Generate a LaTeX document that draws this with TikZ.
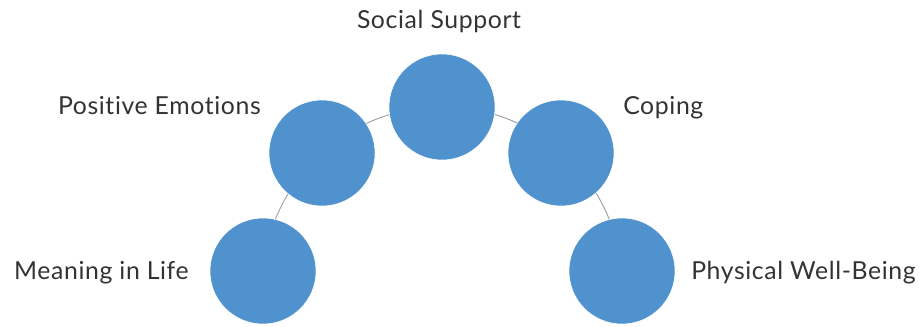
\documentclass[tikz,border=0pt]{standalone}
\usepackage{fontspec}
\setmainfont{Lato}[LetterSpace=2.5,Ligatures=NoCommon]
\usepackage{tikz}
\usetikzlibrary{backgrounds}

\definecolor{bubblefill}{RGB}{79,146,205}
\definecolor{ringgray}{RGB}{165,165,165}
\definecolor{labeltext}{RGB}{51,51,51}

\tikzset{
  bubble/.style={circle, fill=bubblefill, draw=white, line width=0.4pt, inner sep=0pt, minimum size=106*0.75pt},
  lbl/.style={inner sep=0.75pt, text=labeltext, font=\fontsize{18.6}{22}\selectfont},
  ring/.style={draw=ringgray, line width=0.75pt}
}

\begin{document}
\begin{tikzpicture}[x=0.75pt,y=0.75pt,yscale=-1,xscale=1]
    %set diagram to 919 x 326
    \useasboundingbox (0,0) rectangle (919,326);

    %Shape: Circle [meaning]
    \node [bubble] (meaning) at (263,271) {};
    %Shape: Circle [emotions]
    \node [bubble] (emotions) at (322,153) {};
    %Shape: Circle [support]
    \node [bubble] (support) at (442,107) {};
    %Shape: Circle [coping]
    \node [bubble] (coping) at (561,153) {};
    %Shape: Circle [wellbeing]
    \node [bubble] (wellbeing) at (622,271) {};

    %Arc behind the circles
    \begin{scope}[on background layer]
    \draw [ring] (meaning.center) arc [start angle=185, end angle=355, radius=180] ;
    \end{scope}

    % Text Node
    \node [lbl, anchor=base] (supportlbl) at (439,28.3) {Social Support};
    % Text Node
    \node [lbl, anchor=base east] (emotionslbl) at (262,114.3) {Positive Emotions};
    % Text Node
    \node [lbl, anchor=base west] (copinglbl) at (622,114.3) {Coping};
    % Text Node
    \node [lbl, anchor=base east] (meaninglbl) at (190,279) {Meaning in Life};
    % Text Node
    \node [lbl, anchor=base west] (wellbeinglbl) at (690,279) {Physical Well-Being};

\end{tikzpicture}
\end{document}
